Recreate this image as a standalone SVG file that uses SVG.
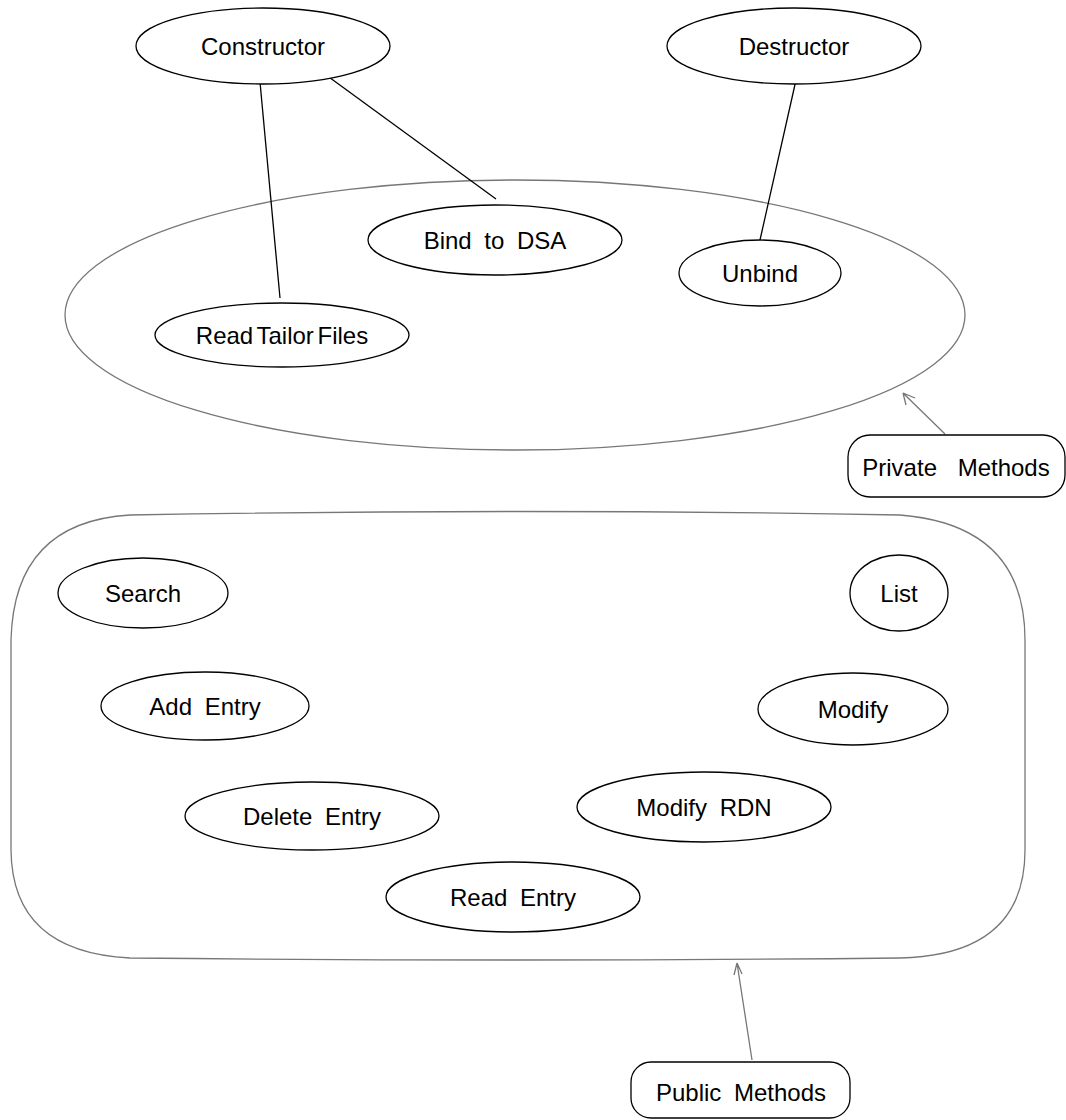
<svg xmlns="http://www.w3.org/2000/svg" width="1066" height="1120" viewBox="0 0 1066 1120">
<style>
.n{fill:#fff;stroke:#000;stroke-width:1.3}
.g{fill:none;stroke:#777;stroke-width:1.3}
.t{font-family:"Liberation Sans",Arial,sans-serif;font-size:24px;fill:#000;text-anchor:middle;dominant-baseline:central;word-spacing:6px}
.e{stroke:#000;stroke-width:1.3;fill:none}
.a{stroke:#777;stroke-width:1.3;fill:none}
</style>
<rect width="1066" height="1120" fill="#fff"/>
<g id="private-methods-region"><ellipse class="g" cx="515" cy="315" rx="450" ry="135"/></g>
<g id="public-methods-region"><path class="g" d="M130,515 Q515,508 900,515 Q1025,525 1025,640 L1025,850 Q1025,955 900,958 Q515,962 130,958 Q12,952 11,850 L11,640 Q14,522 130,515 Z"/></g>
<g id="connectors">
<line class="e" x1="260" y1="82" x2="280" y2="298"/>
<line class="e" x1="322" y1="72" x2="496" y2="199"/>
<line class="e" x1="796" y1="80" x2="760" y2="240"/>
<path class="a" d="M945,434 L903,393 M903,393 L906,405 M903,393 L915,398"/>
<path class="a" d="M752,1060 L737,963 M737,963 L734,975 M737,963 L742,974"/>
</g>
<g id="constructor"><ellipse class="n" cx="263" cy="46" rx="127" ry="38"/><text class="t" x="263" y="46">Constructor</text></g>
<g id="destructor"><ellipse class="n" cx="794" cy="46" rx="127" ry="38"/><text class="t" x="794" y="46">Destructor</text></g>
<g id="bind"><ellipse class="n" cx="495" cy="240" rx="127" ry="35"/><text class="t" x="495" y="240">Bind to DSA</text></g>
<g id="unbind"><ellipse class="n" cx="760" cy="273" rx="81" ry="33"/><text class="t" x="760" y="273">Unbind</text></g>
<g id="read-tailor"><ellipse class="n" cx="282" cy="335" rx="127" ry="32"/><text class="t" x="282" y="335" style="word-spacing:-3px">Read Tailor Files</text></g>
<g id="private-label"><rect class="n" x="848" y="435" width="217" height="62" rx="22" ry="22"/><text class="t" x="956" y="467" style="word-spacing:14px">Private Methods</text></g>
<g id="search"><ellipse class="n" cx="143" cy="593" rx="85" ry="35"/><text class="t" x="143" y="593">Search</text></g>
<g id="list"><ellipse class="n" cx="899" cy="593" rx="49" ry="38"/><text class="t" x="899" y="593">List</text></g>
<g id="add-entry"><ellipse class="n" cx="205" cy="706" rx="104" ry="34"/><text class="t" x="205" y="706">Add Entry</text></g>
<g id="modify"><ellipse class="n" cx="853" cy="709" rx="95" ry="36"/><text class="t" x="853" y="709">Modify</text></g>
<g id="delete-entry"><ellipse class="n" cx="312" cy="816" rx="127" ry="34"/><text class="t" x="312" y="816">Delete Entry</text></g>
<g id="modify-rdn"><ellipse class="n" cx="704" cy="807" rx="127" ry="35"/><text class="t" x="704" y="807">Modify RDN</text></g>
<g id="read-entry"><ellipse class="n" cx="513" cy="897" rx="127" ry="35"/><text class="t" x="513" y="897">Read Entry</text></g>
<g id="public-label"><rect class="n" x="631" y="1062" width="219" height="56" rx="20" ry="20"/><text class="t" x="741" y="1092">Public Methods</text></g>
</svg>
